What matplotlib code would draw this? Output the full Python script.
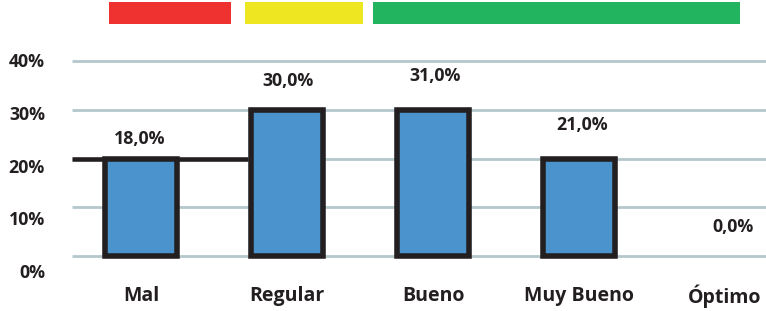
import matplotlib
matplotlib.use("Agg")
import matplotlib.pyplot as plt
from matplotlib.transforms import Bbox, TransformedBbox

# ---- data ----
categories = ["Mal", "Regular", "Bueno", "Muy Bueno", "Óptimo"]
bar_heights = [20, 30, 30, 20, 0]          # heights as drawn
label_values = [18.0, 30.0, 31.0, 21.0, 0.0]  # printed values
y_ticks = [0, 10, 20, 30, 40]
y_tick_labels = ["0%", "10%", "20%", "30%", "40%"]
ref_line_value = 20
band_colors = ["#ef3230", "#efe622", "#23b45f"]

W, H = 766, 311
DPI = 100
fig = plt.figure(figsize=(W / DPI, H / DPI), dpi=DPI)
ax = fig.add_axes([0, 0, 1, 1])

x0_px, dx_px = 141, 146.0
y0_px, dy_px = 256, 4.875
ax.set_xlim(-x0_px / dx_px, (W - x0_px) / dx_px)
ax.set_ylim(-(H - y0_px) / dy_px, y0_px / dy_px)
ax.axis("off")

dark = "#231f20"
font = ["Open Sans", "DejaVu Sans"]

# gridlines
grid_left = (72 - x0_px) / dx_px
for v in y_ticks:
    ax.hlines(v, grid_left, ax.get_xlim()[1], color="#b4c8cc", lw=2.0, zorder=1)

# reference line at 20% up to the Regular bar
ax.hlines(ref_line_value, grid_left, 1 - 0.27, color=dark, lw=3.3, zorder=2)

# bars
xs = list(range(len(categories)))
for x, h in zip(xs, bar_heights):
    if h > 0:
        ax.bar(x, h, width=0.497, color="#4a93cc", edgecolor=dark, linewidth=4.0,
               zorder=3)

# value labels
offsets = [-0.01, 0.01, 0.015, 0.02, 0.055]
for x, v, o in zip(xs, label_values, offsets):
    s = f"{v:.1f}".replace(".", ",") + "%"
    t = ax.text(x + o, v + 5.9, s, ha="center", va="center", fontsize=12.8,
                family=font, fontweight="bold", color=dark, zorder=4)
    clip = TransformedBbox(Bbox([[ax.get_xlim()[0], ax.get_ylim()[0]],
                                 [ax.get_xlim()[1], 38.6]]), ax.transData)
    t.set_clip_box(clip)
    t.set_clip_on(True)

# category labels
for x, c in zip(xs, categories):
    ax.text(x, -8.3, c, ha="center", va="center", fontsize=14,
            family=font, fontweight="bold", color=dark)

# y tick labels (slightly off the gridlines as in the original)
for i, (v, lab) in enumerate(zip(y_ticks, y_tick_labels)):
    ypx = 273 - i * 52.7
    fig.text(45 / W, 1 - ypx / H, lab, ha="right", va="center", fontsize=12.8,
             family=font, fontweight="bold", color=dark)

# top colour bands
bands = [(109, 231), (245, 363), (373, 740)]
for (l, r), col in zip(bands, band_colors):
    xl = (l - x0_px) / dx_px
    xr = (r - x0_px) / dx_px
    ax.bar((xl + xr) / 2, 22 / dy_px, width=xr - xl, bottom=(y0_px - 24) / dy_px,
           color=col, linewidth=0, zorder=2)

fig.savefig("out.png", dpi=DPI)
